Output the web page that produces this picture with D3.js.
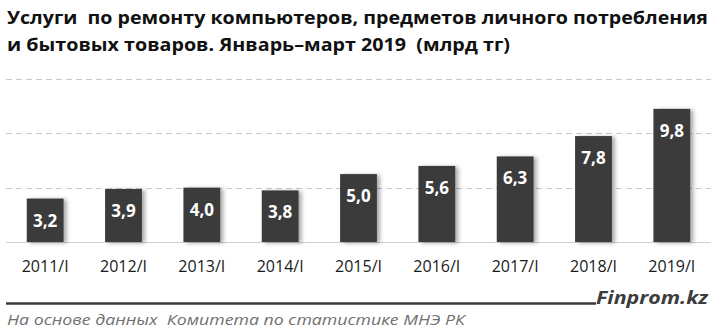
<!DOCTYPE html>
<html><head><meta charset="utf-8">
<script src="https://cdn.jsdelivr.net/npm/d3@7"></script>
<style>
html,body{margin:0;padding:0;background:#fff;}
svg{display:block;}
svg text{white-space:pre;}
</style></head>
<body>
<svg id="chart" width="719" height="333"></svg>
<script>
const categories = ["2011/I","2012/I","2013/I","2014/I","2015/I","2016/I","2017/I","2018/I","2019/I"];
const values = [3.2, 3.9, 4.0, 3.8, 5.0, 5.6, 6.3, 7.8, 9.8];
const gridTicks = [4, 8, 12];
const titleLines = ["Услуги  по ремонту компьютеров, предметов личного потребления",
                    "и бытовых товаров. Январь–март 2019  (млрд тг)"];
const brand = "Finprom.kz";
const source = "На основе данных  Комитета по статистике МНЭ РК";

(function(){
const svg = d3.select("#chart");
const plotLeft = 6, plotRight = 711, plotTop = 79, plotBase = 242;

const defs = svg.append("defs");
const f = defs.append("filter").attr("id","sh").attr("x","-20%").attr("y","-20%").attr("width","150%").attr("height","140%");
f.append("feDropShadow").attr("dx",3).attr("dy",1).attr("stdDeviation",2).attr("flood-color","#000").attr("flood-opacity",0.35);

const x = d3.scaleBand().domain(categories).range([plotLeft, plotRight]).paddingInner(0.53).paddingOuter(0.265);
const y = d3.scaleLinear().domain([0, 12]).range([plotBase, plotTop]);

// title
const tw = [701, 503];
titleLines.forEach((t, i) => {
  svg.append("text").attr("x", 7).attr("y", 24 + i*26.5)
    .attr("font-family","'Open Sans', sans-serif").attr("font-weight","bold")
    .attr("font-size", 18.5).attr("fill","#111")
    .attr("textLength", tw[i]).attr("lengthAdjust","spacingAndGlyphs")
    .text(t);
});

// gridlines
svg.append("g").selectAll("line").data(gridTicks).join("line")
  .attr("x1", plotLeft).attr("x2", plotRight)
  .attr("y1", d => Math.round(y(d)) + 0.5).attr("y2", d => Math.round(y(d)) + 0.5)
  .attr("stroke","#c8c8c8").attr("stroke-width",1).attr("stroke-dasharray","6,4");

// baseline
svg.append("line").attr("x1", plotLeft).attr("x2", plotRight)
  .attr("y1", y(0)+0.5).attr("y2", y(0)+0.5).attr("stroke","#cfcfcf").attr("stroke-width",1.2);

// bars
svg.append("g").selectAll("rect").data(values).join("rect")
  .attr("x", (d,i) => x(categories[i]))
  .attr("y", d => y(d))
  .attr("width", x.bandwidth())
  .attr("height", d => y(0) - y(d))
  .attr("fill","#3b3b3b")
  .attr("filter","url(#sh)");

// value labels
svg.append("g").selectAll("text").data(values).join("text")
  .attr("x", (d,i) => x(categories[i]) + x.bandwidth()/2)
  .attr("y", d => y(d) + 28)
  .attr("text-anchor","middle")
  .attr("font-family","'Open Sans', sans-serif").attr("font-weight","bold")
  .attr("font-size",17).attr("fill","#fff")
  .text(d => d.toFixed(1).replace(".", ","));

// x axis
const xAxis = d3.axisBottom(x).tickSize(0).tickPadding(0);
const gx = svg.append("g").attr("transform", `translate(0,${plotBase})`).call(xAxis);
gx.select(".domain").remove();
gx.selectAll("text").attr("dy", null).attr("y", 30)
  .attr("font-family","'Open Sans', sans-serif").attr("font-size",16).attr("fill","#1a1a1a");

// footer
svg.append("line").attr("x1",6).attr("x2",596).attr("y1",303.5).attr("y2",303.5)
  .attr("stroke","#3a3a3a").attr("stroke-width",2.6);
svg.append("text").attr("x", 708).attr("y", 304).attr("text-anchor","end")
  .attr("font-family","'Open Sans', sans-serif").attr("font-weight","bold").attr("font-style","italic")
  .attr("font-size",18).attr("fill","#3d3d3d")
  .attr("textLength",112).attr("lengthAdjust","spacingAndGlyphs")
  .text(brand);
svg.append("text").attr("x", 7).attr("y", 325)
  .attr("font-family","'Open Sans', sans-serif").attr("font-style","italic")
  .attr("font-size",14).attr("fill","#707070")
  .attr("textLength",458).attr("lengthAdjust","spacingAndGlyphs")
  .text(source);
})();
</script>
</body></html>
